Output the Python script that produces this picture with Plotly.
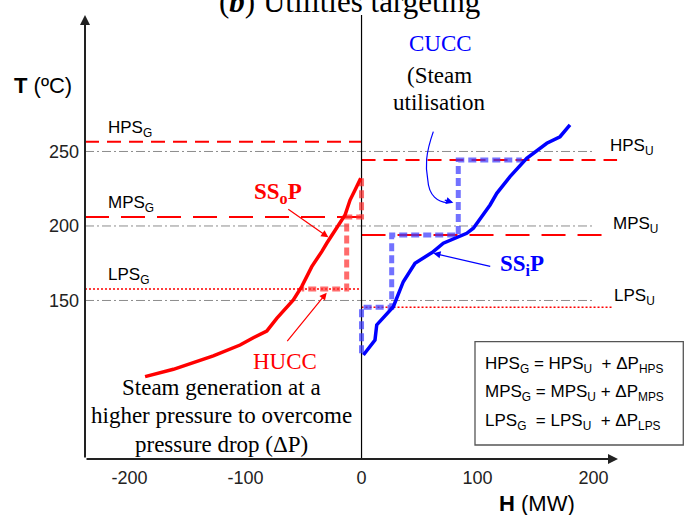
import plotly.graph_objects as go

# Hot utility composite curve (steam generation side): enthalpy H (MW), temperature T (degC)
hucc_h = [-186.6, -162.2, -127.8, -104.7, -93.3, -81.7, -73.1, -58.8, -51.6,
          -42.9, -34.3, -30.0, -14.2, -9.9, -5.6, -0.7]
hucc_t = [98.9, 103.8, 112.8, 120.1, 125.0, 129.5, 138.0, 150.3, 159.3,
          172.7, 182.8, 188.4, 207.4, 217.4, 224.2, 232.0]

# Cold utility composite curve (steam utilisation side)
cucc_h = [1.6, 11.6, 13.1, 27.4, 36.0, 46.1, 60.8, 70.5, 90.7, 96.4, 110.8,
          116.6, 128.0, 142.4, 159.7, 171.1, 179.7]
cucc_t = [113.4, 123.5, 133.6, 145.8, 162.6, 175.0, 182.2, 188.4, 195.1, 198.5,
          214.1, 221.9, 233.1, 245.4, 255.5, 259.9, 267.8]

# Steam levels: generation (G) and utilisation (U) temperatures, nominal headers
levels = ["HPS", "MPS", "LPS"]
gen_t = [256.6, 206.0, 157.7]
use_t = [244.3, 194.0, 145.4]
nominal_t = [250, 200, 150]
use_end_h = [220.3, 216.8, 216.8]

# Steam generation profile (SSoP) and steam utilisation profile (SSiP)
ssop_h = [0.0, 0.0, -12.8, -12.8, -51.6]
ssop_t = [232.0, 206.0, 206.0, 157.7, 157.7]
ssip_h = [0.0, 0.0, 26.0, 26.0, 83.4, 83.4, 138.1]
ssip_t = [114.6, 145.4, 145.4, 194.0, 194.0, 244.3, 244.3]

x_ticks = [-200, -100, 0, 100, 200]
x_tick_text = ["-200", "-100", "0", "100", "200"]
y_ticks = [150, 200, 250]
y_tick_text = ["150", "200", "250"]

X_MIN, X_MAX = -238.4, 221.1
Y_MIN, Y_MAX = 43.6, 341.6

SANS = "Liberation Sans, Arial, sans-serif"
SERIF = "Liberation Serif, Times New Roman, serif"
RED = "#ff0000"
BLUE = "#0000ff"
GREY = "#8c8c8c"

level_dash = {"HPS": ("14px,8px", 2), "MPS": ("24px,12px", 2), "LPS": ("2px,2px", 1.5)}

fig = go.Figure()

# nominal header temperatures (grey dash-dot)
for t in nominal_t:
    fig.add_trace(go.Scatter(x=[X_MIN, 199.6], y=[t, t], mode="lines",
                             line=dict(color=GREY, width=1, dash="9px,3px,2px,3px"),
                             hoverinfo="skip"))

# generation and utilisation steam levels (red)
for name, tg, tu, xe in zip(levels, gen_t, use_t, use_end_h):
    dash, w = level_dash[name]
    fig.add_trace(go.Scatter(x=[X_MIN, 0], y=[tg, tg], mode="lines",
                             line=dict(color=RED, width=w, dash=dash), hoverinfo="skip"))
    fig.add_trace(go.Scatter(x=[0, xe], y=[tu, tu], mode="lines",
                             line=dict(color=RED, width=w, dash=dash), hoverinfo="skip"))

# H = 0 divider
fig.add_trace(go.Scatter(x=[0, 0], y=[Y_MIN, Y_MAX], mode="lines",
                         line=dict(color="#000000", width=1.2), hoverinfo="skip"))

# steam profiles
fig.add_trace(go.Scatter(x=ssop_h, y=ssop_t, mode="lines",
                         line=dict(color="rgba(255,50,50,0.72)", width=5, dash="8px,4px"),
                         hoverinfo="skip"))
fig.add_trace(go.Scatter(x=ssip_h, y=ssip_t, mode="lines",
                         line=dict(color="rgba(60,60,255,0.72)", width=5, dash="8px,4px"),
                         hoverinfo="skip"))

# utility composite curves
fig.add_trace(go.Scatter(x=hucc_h, y=hucc_t, mode="lines",
                         line=dict(color=RED, width=3.5), hoverinfo="skip"))
fig.add_trace(go.Scatter(x=cucc_h, y=cucc_t, mode="lines",
                         line=dict(color=BLUE, width=3.5), hoverinfo="skip"))

ann = []

def text(x, y, s, size, color="#000000", family=SERIF, xanchor="center", xref="x", yref="y"):
    ann.append(dict(x=x, y=y, xref=xref, yref=yref, text=s, showarrow=False,
                    xanchor=xanchor, yanchor="middle",
                    font=dict(family=family, size=size, color=color)))

def arrow(x, y, ax, ay, color, width=1.2, size=1.2, axref="pixel", ayref="pixel"):
    d = dict(x=x, y=y, xref="x", yref="y", ax=ax, ay=ay, text="", showarrow=True,
             arrowhead=2, arrowsize=size, arrowwidth=width, arrowcolor=color, standoff=0)
    if axref != "pixel":
        d.update(axref=axref, ayref=ayref)
    ann.append(d)

# axes with arrowheads
arrow(X_MIN, Y_MAX, X_MIN, Y_MIN, "#222222", width=2, size=1, axref="x", ayref="y")
arrow(X_MAX, Y_MIN, X_MIN, Y_MIN, "#222222", width=2, size=1, axref="x", ayref="y")

# title
text(0.497, 1.031, "(<b><i>b</i></b>) Utilities targeting", 31, xref="paper", yref="paper")

# axis titles
text(-0.0797, 0.842, "<b>T</b> (\u00baC)", 22, family=SANS, xref="paper", yref="paper")
text(0.848, -0.0991, "<b>H</b> (MW)", 22, family=SANS, xref="paper", yref="paper")

# level labels
for name, tg in zip(levels, gen_t):
    text(-220.3, tg + 8.5, f"{name}<sub>G</sub>", 17, family=SANS, xanchor="left")
text(212.8, 252.7, "HPS<sub>U</sub>", 17, family=SANS, xanchor="left")
text(215.1, 200.5, "MPS<sub>U</sub>", 17, family=SANS, xanchor="left")
text(215.7, 152.0, "LPS<sub>U</sub>", 17, family=SANS, xanchor="left")

# curve annotations
text(67.7, 322.8, "CUCC", 23, color=BLUE)
text(66.8, 301.3, "(Steam", 23)
text(66.8, 283.2, "utilisation", 23)
text(-72.0, 222.1, "<b>SS<sub>o</sub>P</b>", 23, color=RED)
text(138.1, 173.8, "<b>SS<sub>i</sub>P</b>", 23, color=BLUE)
text(-65.9, 108.9, "HUCC", 23, color=RED)
text(-120.5, 91.5, "Steam generation at a", 23)
text(-121.1, 72.7, "higher pressure to overcome", 23)
text(-120.3, 53.0, "pressure drop (\u0394P)", 23)

arrow(-28.6, 192.4, -41.6, -29, RED)
arrow(-30.0, 155.2, -40.7, 50, RED)
arrow(61.9, 181.7, 58.4, 13.4, BLUE)
arrow(79.1, 215.6, -10, -3, BLUE)

# pressure-drop relations
text(104.5, 106.7, "HPS<sub>G</sub> = HPS<sub>U</sub>\u00a0 + \u0394P<sub>HPS</sub>", 17, family=SANS, xanchor="left")
text(104.5, 88.1, "MPS<sub>G</sub> = MPS<sub>U</sub> + \u0394P<sub>MPS</sub>", 17, family=SANS, xanchor="left")
text(104.5, 68.7, "LPS<sub>G</sub>\u00a0 = LPS<sub>U</sub>\u00a0 + \u0394P<sub>LPS</sub>", 17, family=SANS, xanchor="left")

shapes = [
    dict(type="rect", xref="paper", yref="paper", x0=0.7317, x1=1.1225, y0=0.0315, y1=0.2642,
         line=dict(color="#555555", width=1.3), fillcolor="rgba(0,0,0,0)"),
    dict(type="path", xref="x", yref="y",
         path="M 61.9,263.3 C 55,248 55,240 57.1,231 C 58,220 66,216 74,215.6",
         line=dict(color=BLUE, width=1.2)),
]

fig.update_layout(
    width=685, height=515,
    margin=dict(l=85, r=67, t=15, b=56),
    paper_bgcolor="white", plot_bgcolor="white",
    showlegend=False,
    annotations=ann,
    shapes=shapes,
    xaxis=dict(range=[X_MIN, X_MAX], tickvals=x_ticks, ticktext=x_tick_text,
               showgrid=False, zeroline=False, showline=False, ticks="", ticklabelstandoff=6,
               tickfont=dict(family=SANS, size=18, color="#222222")),
    yaxis=dict(range=[Y_MIN, Y_MAX], tickvals=y_ticks, ticktext=y_tick_text,
               showgrid=False, zeroline=False, showline=False, ticks="", ticklabelstandoff=5,
               tickfont=dict(family=SANS, size=18, color="#222222")),
)

fig.write_html("out.html")
